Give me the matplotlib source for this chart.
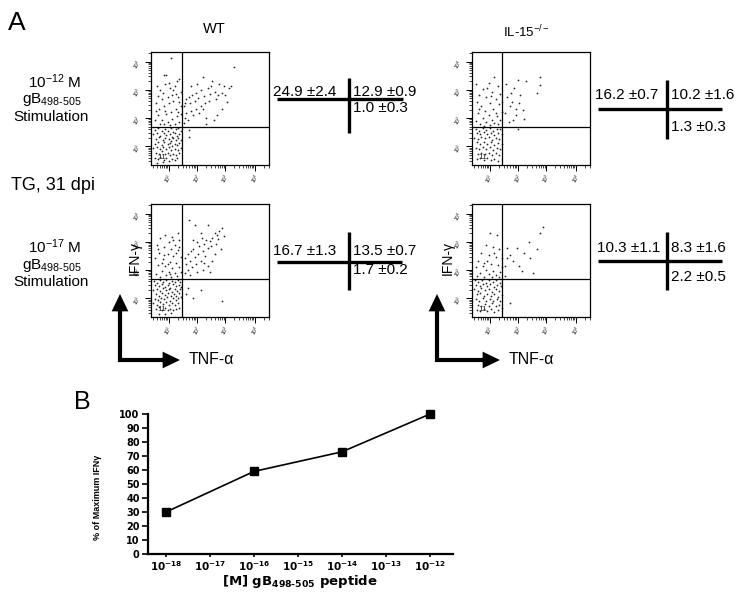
import numpy as np
import matplotlib
matplotlib.use('Agg')
import matplotlib.pyplot as plt

plt.rcParams['font.family'] = 'Liberation Sans'
plt.rcParams['mathtext.fontset'] = 'custom'
plt.rcParams['mathtext.rm'] = 'Liberation Sans'
plt.rcParams['mathtext.it'] = 'Liberation Sans:italic'
plt.rcParams['mathtext.bf'] = 'DejaVu Sans:bold'

W, H = 750, 601

# ── panel A: dot plots (positions in % of plot box) ──
wt12_pts = [
    # IFN+ TNF-
    (17, 95), (11, 80), (13, 80), (5, 70), (8, 66), (12, 72), (16, 68), (20, 70), (22, 74), (24, 76),
    (18, 62), (14, 60), (9, 58), (4, 55), (7, 50), (11, 52), (15, 55), (19, 57), (23, 60), (25, 65),
    (21, 50), (17, 47), (13, 45), (6, 44), (3, 40), (9, 40), (14, 38), (18, 41), (22, 43), (24, 38),
    (20, 36), (16, 35), (11, 36), (25, 52), (23, 47), (19, 66), (10, 64), (6, 61), (15, 73), (21, 63),
    (25, 45), (12, 48), (8, 36), (4, 48), (24, 56),
    # IFN+ TNF+
    (70, 87), (44, 78), (52, 74), (58, 72), (62, 70), (66, 68), (68, 70), (48, 68), (42, 66), (38, 64),
    (35, 62), (32, 60), (30, 58), (29, 55), (28, 52), (33, 55), (37, 57), (40, 59), (45, 61), (50, 63),
    (54, 65), (57, 62), (60, 64), (63, 62), (55, 58), (49, 57), (46, 55), (42, 52), (38, 50), (34, 48),
    (30, 46), (29, 42), (31, 40), (36, 44), (41, 46), (47, 42), (53, 40), (56, 44), (60, 50), (64, 56),
    (44, 50), (39, 72), (34, 70), (51, 70), (47, 36), (28, 37),
    # IFN- TNF+
    (32, 31), (32, 25),
    # IFN- TNF-
    (3, 31), (6, 32.5), (9, 30), (12, 32), (14, 30.5), (17, 32.8), (19, 29.5), (21, 31.5), (23, 32.5), (25, 30),
    (2, 27), (5, 28.5), (8, 26), (11, 28), (13, 26.5), (16, 27.5), (18, 25), (20, 28), (22, 26), (24, 27.8),
    (4, 23), (7, 24.5), (10, 22), (12, 24), (15, 22.8), (17, 21), (19, 23.5), (21, 22), (23, 24), (25.5, 22.5),
    (3, 19), (6, 20), (9, 18), (11, 20.5), (14, 18.5), (16, 19.5), (18, 17), (20, 19), (22, 17.5), (24, 19.8),
    (2, 15), (5, 16), (8, 14), (10, 15.5), (13, 14), (15, 16), (17, 13), (20, 14.5), (23, 13), (25, 15),
    (4, 11), (7, 10), (9, 12), (12, 9.5), (14, 11), (16, 8.5), (19, 10), (21, 9), (24, 10.5), (3, 6),
    (6, 5), (8, 7), (11, 4.5), (13, 6.5), (15, 3.5), (18, 5.5), (20, 4), (22, 6), (5, 2), (10, 2.5),
]

wt17_pts = [
    (22.5, 74), (12, 73), (18, 71), (8, 70), (24, 68), (15, 66), (5, 64), (20, 64), (11, 62), (17, 60),
    (23, 59), (7, 57), (14, 56), (19, 54), (25, 53), (3, 52), (10, 51), (16, 49), (21, 48), (6, 46),
    (12, 45), (18, 43), (24, 44), (9, 41), (15, 40), (20, 39), (4, 38), (13, 37), (22, 36), (17, 35),
    (8, 35), (25, 40), (11, 55), (21, 57), (6, 60), (14, 47), (19, 68), (24, 62), (9, 48), (16, 38),
    (32, 86), (37.5, 81), (48, 81), (60, 79), (56, 73), (58, 76), (54, 74), (52, 70), (50, 67), (47, 68),
    (45, 65), (43, 70), (41, 63), (39, 66), (36, 60), (34, 58), (31, 56), (29, 52), (33, 50), (37, 53),
    (40, 56), (44, 58), (48, 61), (51, 63), (55, 65), (57, 69), (46, 54), (42, 50), (38, 47), (35, 44),
    (31, 42), (29, 39), (33, 37), (39, 40), (44, 42), (48, 45), (52, 50), (54, 56), (59, 60), (36, 68),
    (42, 74), (30, 47), (50, 40), (62, 72), (45, 48),
    (31, 26), (42, 24), (36, 17), (60, 14), (30, 20),
    (2.5, 32), (5, 30.5), (8, 32.8), (10.5, 31), (13, 33), (15.5, 30), (18, 32), (20.5, 30.8), (22.5, 33), (24.5, 31),
    (3.5, 28), (6.5, 27), (9, 29), (11.5, 26.5), (14, 28.5), (16.5, 26), (19, 28.8), (21.5, 27), (23.5, 28.5), (25.5, 26.5),
    (2, 24), (5.5, 25), (8, 23), (10, 25.5), (12.5, 23.5), (15, 25), (17.5, 22.5), (20, 24.5), (22, 23), (24.5, 24.8),
    (4, 20.5), (7, 19), (9.5, 21), (12, 19.5), (14.5, 21.5), (17, 18.5), (19.5, 20.5), (21.5, 19), (23.5, 21), (25, 18),
    (3, 16), (6, 15), (8.5, 17), (11, 15.5), (13.5, 17.5), (16, 14.5), (18.5, 16.5), (21, 15), (23, 16.8), (2, 12),
    (5, 11), (7.5, 13), (10, 11.5), (12.5, 13.5), (15, 10.5), (17.5, 12.5), (20, 11), (22.5, 12), (4, 7.5), (6.5, 8.5),
    (9, 6.5), (11.5, 8), (14, 6), (16.5, 7.5), (19, 6), (21.5, 7.5), (24, 8), (7, 3), (12, 2.5), (17, 3.5),
]

il12_pts = [
    (19, 78), (14, 73), (3, 72), (22, 70), (9, 67), (17, 65), (24, 63), (6, 62), (12, 60), (20, 58),
    (4, 56), (15, 55), (23, 54), (8, 52), (18, 50), (11, 48), (25, 47), (5, 46), (14, 44), (21, 43),
    (9, 42), (17, 40), (24, 40), (3, 39), (12, 38), (19, 37), (7, 36), (22, 36), (15, 35), (10, 34.5),
    (25, 56), (13, 68), (20, 46), (16, 61), (6, 50),
    (39, 75), (46, 74), (58, 78), (58, 71), (55, 64), (29, 72), (33, 64), (34, 56), (37.5, 50), (37, 44),
    (44, 41), (30, 60), (36, 68), (41, 62), (32, 52), (40, 55), (28, 46), (43, 49), (35, 40), (31, 38),
    (39, 32),
    (3, 32), (6, 30), (9, 32.5), (12, 31), (15, 33), (18, 30.5), (21, 32), (24, 31.5),
    (4, 28), (7, 27), (10, 29), (13, 27.5), (16, 28.5), (19, 26.5), (22, 28), (25, 27),
    (2, 24), (5, 23), (8, 25), (11, 23.5), (14, 24.5), (17, 22.5), (20, 24), (23, 23),
    (4, 20), (7, 19), (10, 20.5), (13, 18.5), (16, 20), (19, 18), (22, 19.5), (25, 18.5),
    (3, 15), (6, 14), (9, 16), (12, 14.5), (15, 15.5), (18, 13.5), (21, 15), (24, 14),
    (5, 10), (8, 11), (11, 9.5), (14, 11), (17, 9), (20, 10.5), (23, 9),
    (4, 5), (7, 6), (10, 4.5), (13, 6), (16, 4), (19, 5.5), (22, 3.5),
]

il17_pts = [
    (15, 74), (21, 73), (12, 64), (18, 62), (23, 60), (8, 57), (14, 55), (20, 53), (25, 52), (5, 50),
    (10, 48), (16, 47), (22, 46), (3, 44), (12, 42), (18, 41), (24, 40), (7, 39), (14, 38), (20, 37),
    (4, 36), (10, 35.5), (17, 35), (23, 35), (9, 45), (19, 57), (13, 50), (25, 44),
    (60, 80), (58, 74), (48, 66), (55, 60), (38, 61), (30, 61), (32, 55), (28, 45), (40, 45), (42, 41),
    (52, 39), (49, 52), (30, 52), (28, 36), (35, 50), (44, 57),
    (32, 12),
    (2.5, 33), (5.5, 31), (8.5, 32.5), (11.5, 30.5), (14.5, 32.8), (17.5, 31), (20.5, 33), (23.5, 30.5),
    (3.5, 28.5), (6.5, 27), (9.5, 29), (12.5, 27.5), (15.5, 29.5), (18.5, 26.5), (21.5, 28.5), (24.5, 27.5),
    (2, 24.5), (5, 23), (8, 25.5), (11, 23.5), (14, 25), (17, 22.5), (20, 24.5), (23, 23),
    (4, 20), (7, 21), (10, 19), (13, 20.5), (16, 18.5), (19, 20), (22, 18), (25, 19.5),
    (3, 16), (6, 14.5), (9, 16.5), (12, 14), (15, 16), (18, 14.5), (21, 16), (24, 14),
    (5, 11), (8, 9.5), (11, 11.5), (14, 10), (17, 12), (20, 9.5), (23, 11),
    (4, 6), (7, 5), (10, 7), (13, 5.5), (16, 7), (19, 4.5), (22, 6.5), (25, 8),
]

# quadrant percentages (mean ± SD): upper-left, upper-right, lower-right
wt12_mean, wt12_sd = [24.9, 12.9, 1.0], [2.4, 0.9, 0.3]
il12_mean, il12_sd = [16.2, 10.2, 1.3], [0.7, 1.6, 0.3]
wt17_mean, wt17_sd = [16.7, 13.5, 1.7], [1.3, 0.7, 0.2]
il17_mean, il17_sd = [10.3, 8.3, 2.2], [1.1, 1.6, 0.5]

# ── panel B: dose response ────────────────────────────────────────────────
conc = [1e-18, 1e-16, 1e-14, 1e-12]
pct_max_ifng = [30, 59, 73, 100]
conc_ticks = [1e-18, 1e-17, 1e-16, 1e-15, 1e-14, 1e-13, 1e-12]

HY = '\u2010'  # real hyphen inside math subscripts

fig = plt.figure(figsize=(W / 100, H / 100), dpi=100)

# overlay in pixel coordinates for labels, crosses and arrows
ax0 = fig.add_axes([0, 0, 1, 1])
ax0.set_xlim(0, W)
ax0.set_ylim(H, 0)
ax0.axis('off')


def add_px_axes(l, t, r, b):
    return fig.add_axes([l / W, 1 - b / H, (r - l) / W, (b - t) / H])


y_major = [16.5, 41.5, 66.5, 91.5]
x_major = [15, 39, 63, 88]


def log_minor(major):
    out = []
    for m0 in [major[0] - 25] + major:
        for k in range(2, 10):
            p = m0 + 25 * np.log10(k)
            if 0 < p < 100:
                out.append(p)
    return out


def dot_plot(box, pts, qx, qy):
    ax = add_px_axes(*box)
    pts = np.array(pts)
    ax.scatter(pts[:, 0], pts[:, 1], s=1.6, c='#262626', lw=0)
    ax.axvline(qx, color='k', lw=0.9)
    ax.axhline(qy, color='k', lw=0.9)
    ax.set_xlim(0, 100)
    ax.set_ylim(0, 100)
    for s in ax.spines.values():
        s.set_linewidth(0.9)
    ax.set_xticks(x_major)
    ax.set_yticks(y_major)
    ax.set_xticks(log_minor(x_major), minor=True)
    ax.set_yticks(log_minor(y_major), minor=True)
    labs = [r'$10^{%d}$' % i for i in range(1, 5)]
    ax.set_xticklabels(labs, fontsize=3.5, rotation=60)
    ax.set_yticklabels(labs, fontsize=3.5, rotation=60)
    ax.tick_params(which='major', direction='out', length=4, width=0.7, pad=1)
    ax.tick_params(which='minor', direction='out', length=2.5, width=0.5)
    ax.text(9, 7, '11', fontsize=6, ha='center', va='center', color='#333')
    return ax


dot_plot((151, 52, 269, 165), wt12_pts, 26.5, 33.8)
dot_plot((472, 52, 590, 165), il12_pts, 25.6, 33.8)
dot_plot((151, 204, 269, 317), wt17_pts, 26.5, 33.8)
dot_plot((472, 204, 590, 317), il17_pts, 25.6, 33.8)

# titles and row labels
ax0.text(17, 23, 'A', fontsize=19, ha='center', va='center')
ax0.text(214, 29, 'WT', fontsize=10.5, ha='center', va='center')
ax0.text(526, 32, 'IL-15$^{-/-}$', fontsize=9.5, ha='center', va='center')
for ytop, dose in [(82, 12), (247, 17)]:
    ax0.text(55, ytop, '10$^{-%d}$ M' % dose, fontsize=11, ha='center', va='center')
    ax0.text(52, ytop + 18, 'gB$_{498%s505}$' % HY, fontsize=11, ha='center', va='center')
    ax0.text(51, ytop + 35, 'Stimulation', fontsize=11, ha='center', va='center')
ax0.text(11, 186, 'TG, 31 dpi', fontsize=13, ha='left', va='center')

# summary crosses
crosses = [
    (wt12_mean, wt12_sd, (277, 403), 99, 349, (78, 133), 92, 108, 273),
    (il12_mean, il12_sd, (598, 722), 109, 667, (80, 139), 95, 127, 595),
    (wt17_mean, wt17_sd, (277, 402), 262, 349, (232, 290), 251, 270, 273),
    (il17_mean, il17_sd, (598, 722), 261, 667, (232, 290), 248, 277, 597),
]
for mean, sd, hx, hy, vx, vy, ty1, ty2, tx in crosses:
    ax0.plot(hx, [hy, hy], color='k', lw=2.4, solid_capstyle='butt')
    ax0.plot([vx, vx], vy, color='k', lw=2.4, solid_capstyle='butt')
    lab = ['%.1f \u00b1%.1f' % (m, s) for m, s in zip(mean, sd)]
    ax0.text(tx, ty1, lab[0], fontsize=11, ha='left', va='center')
    ax0.text(vx + 4, ty1, lab[1], fontsize=11, ha='left', va='center')
    ax0.text(vx + 4, ty2, lab[2], fontsize=11, ha='left', va='center')

# axis arrows
head = dict(arrowstyle='-|>,head_length=1.25,head_width=0.6', mutation_scale=10,
            lw=0, fc='k', ec='k', shrinkA=0, shrinkB=0)
for cx, tipx, ifx in [(120, 180, 135), (437, 500, 448)]:
    ax0.plot([cx, cx, tipx - 12], [306, 360, 360], color='k', lw=3,
             solid_joinstyle='miter', solid_capstyle='projecting')
    ax0.annotate('', xy=(cx, 294), xytext=(cx, 312), arrowprops=head)
    ax0.annotate('', xy=(tipx, 360), xytext=(tipx - 18, 360), arrowprops=head)
    ax0.text(tipx + 9, 360, 'TNF-\u03b1', fontsize=11.5, ha='left', va='center')
    ax0.text(ifx, 258, 'IFN-\u03b3', fontsize=10, rotation=90, ha='center', va='center')

# ── panel B ───────────────────────────────────────────────────────────────
ax0.text(82, 402, 'B', fontsize=18, ha='center', va='center')
axb = add_px_axes(148, 414, 453, 554)
axb.plot(conc, pct_max_ifng, color='k', lw=1.2, marker='s', ms=5.5, clip_on=False, zorder=3)
axb.set_xscale('log')
axb.set_xlim(10 ** -18.41, 10 ** -11.48)
axb.set_ylim(0, 100)
axb.set_yticks(range(0, 101, 10))
axb.set_xticks(conc_ticks)
axb.set_xticklabels([r'$\mathbf{10^{%d}}$' % round(np.log10(c)) for c in conc_ticks], fontsize=7.5)
axb.minorticks_off()
axb.spines['top'].set_visible(False)
axb.spines['right'].set_visible(False)
axb.spines['left'].set_linewidth(1.6)
axb.spines['bottom'].set_linewidth(1.6)
axb.tick_params(axis='y', direction='out', length=4, width=1.2, pad=2, labelsize=7)
axb.tick_params(axis='x', direction='out', length=2.5, width=1.2, pad=1)
for t in axb.get_yticklabels():
    t.set_fontweight('bold')
    t.set_family('DejaVu Sans')
ax0.text(97, 497, '% of Maximum IFN\u03b3', fontsize=6.5, fontweight='bold',
         rotation=90, ha='center', va='center')
ax0.text(300, 582, r'[M] gB$_{\mathbf{498%s505}}$ peptide' % HY, fontsize=9.5, fontweight='bold',
         family='DejaVu Sans', ha='center', va='center')

fig.savefig('out.png', dpi=100)
